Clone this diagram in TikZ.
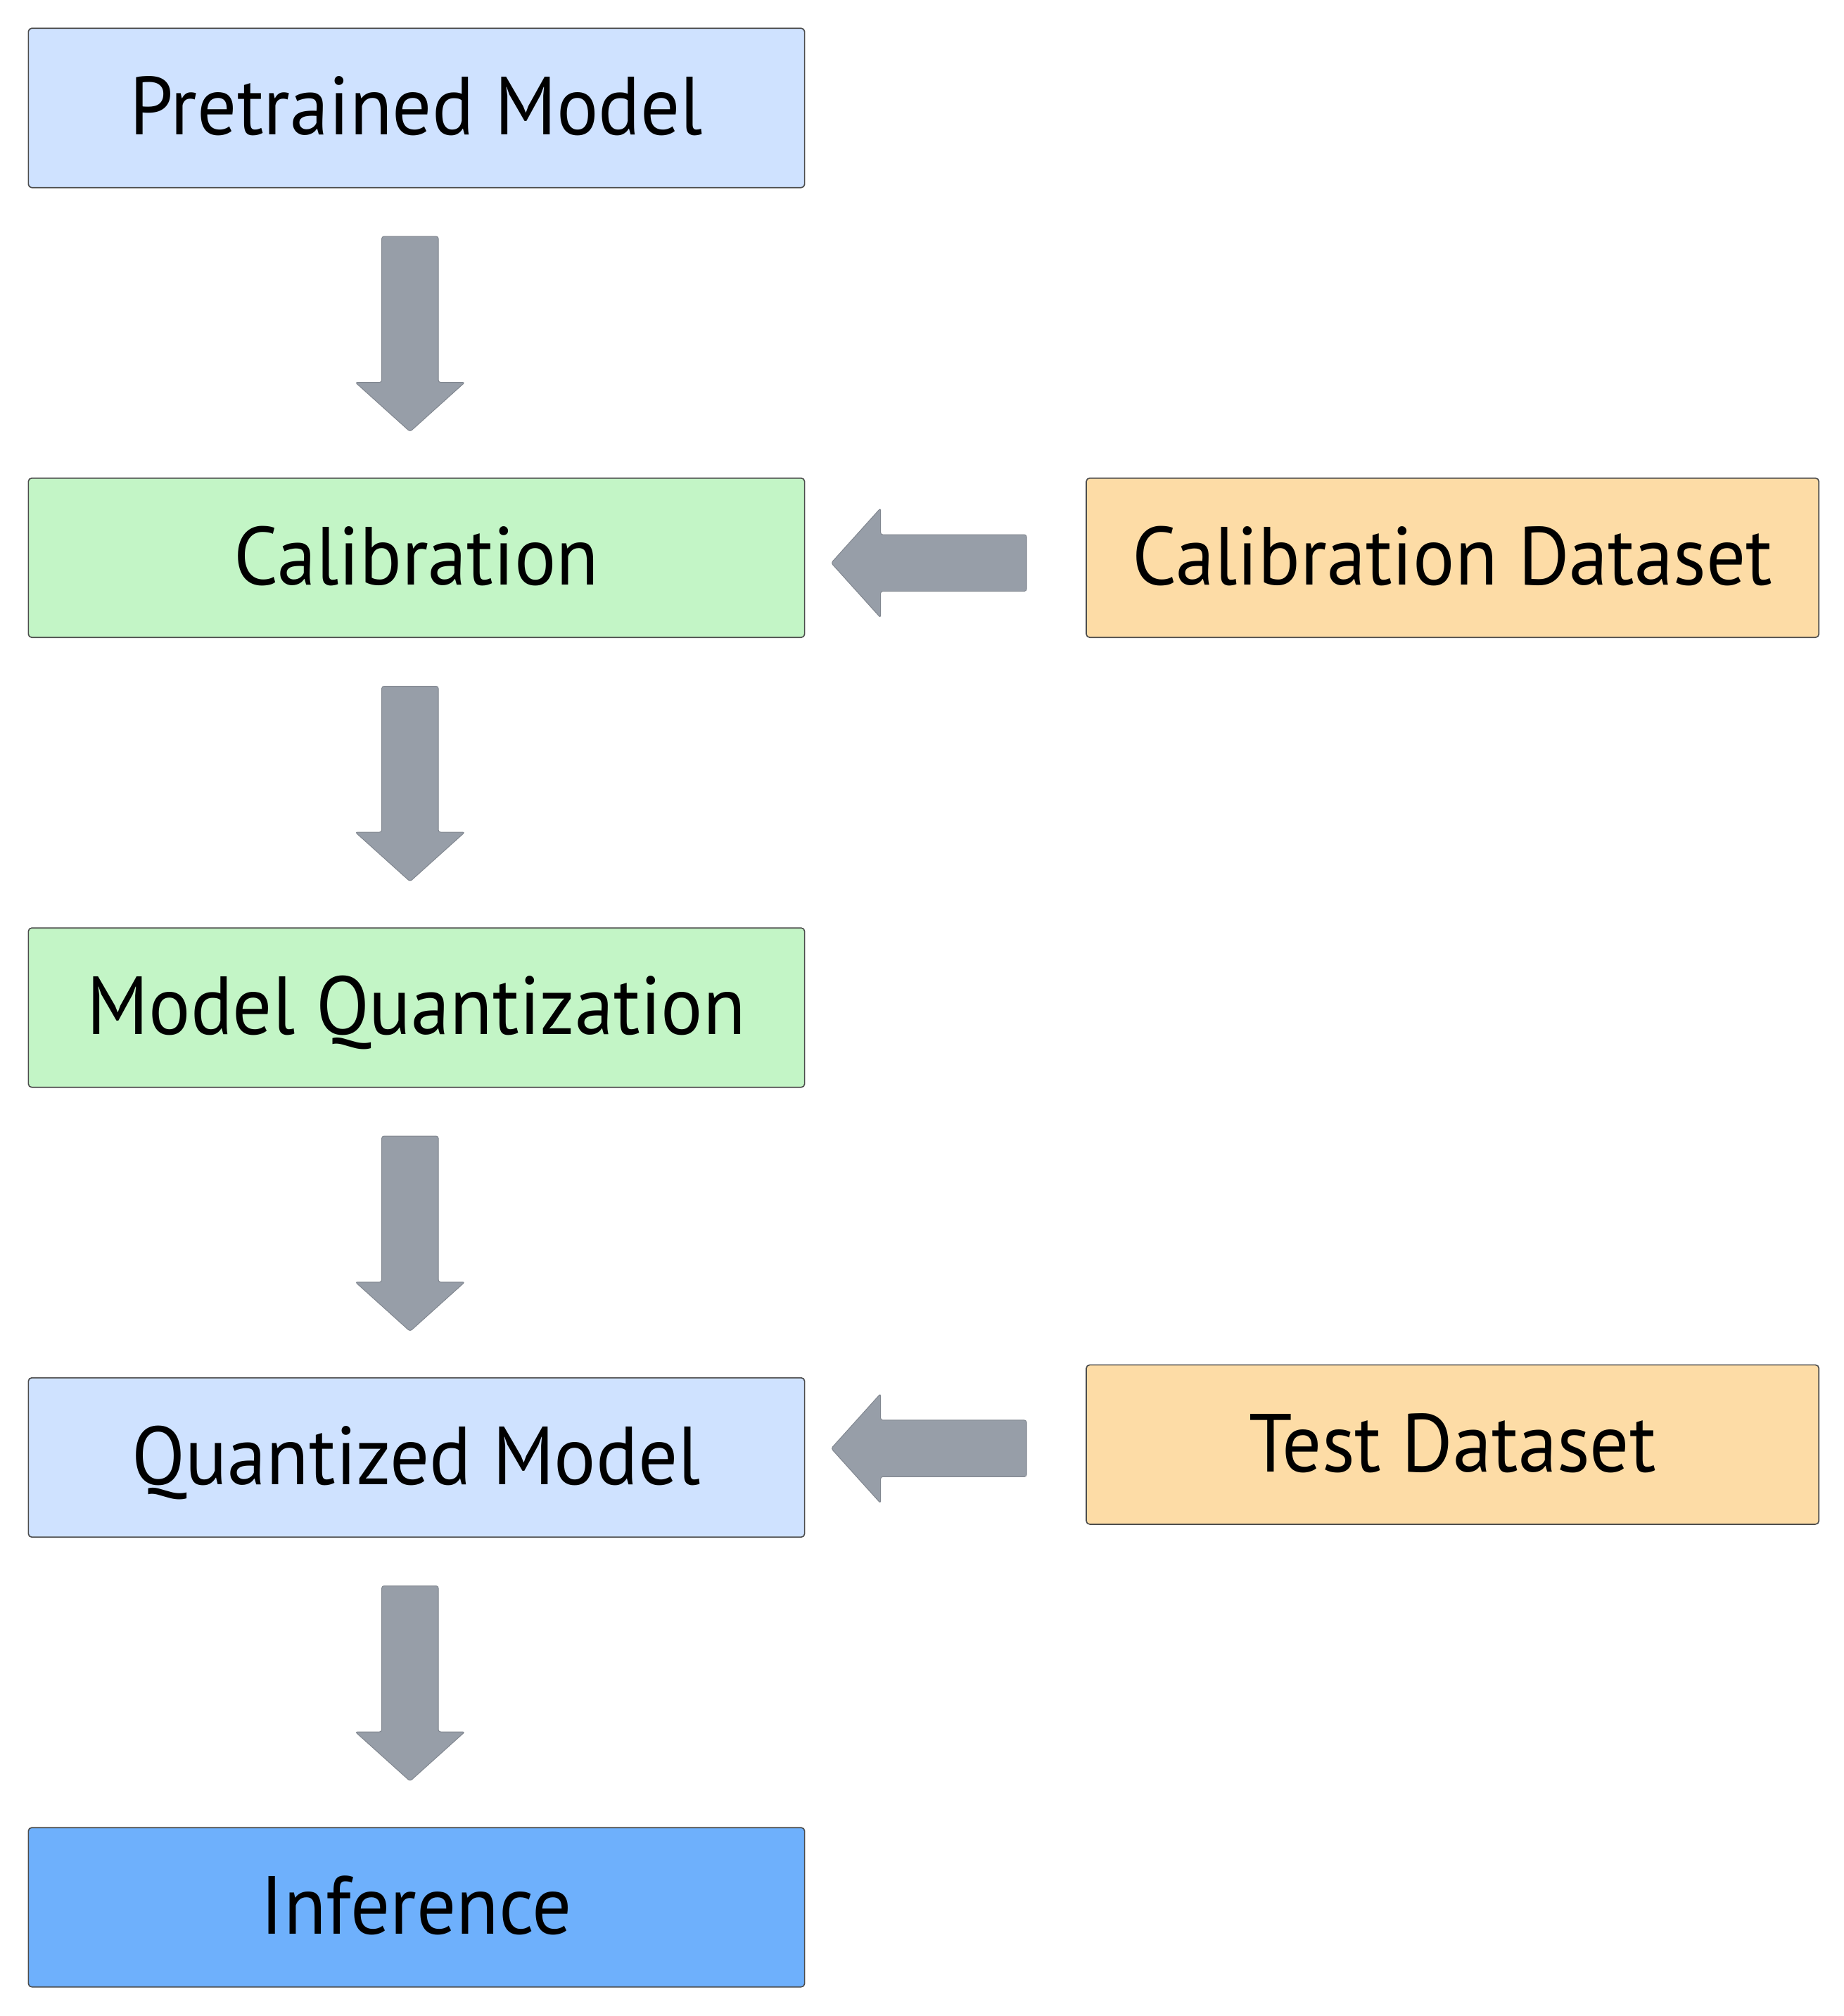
\documentclass[tikz,border=0pt]{standalone}
\usepackage{fontspec}
\setmainfont{PT Sans}[FakeStretch=0.947]
\usetikzlibrary{shapes.arrows,calc}
\definecolor{bluelt}{HTML}{CFE2FF}
\definecolor{greenlt}{HTML}{C3F5C6}
\definecolor{orangelt}{HTML}{FDDCA6}
\definecolor{bluemid}{HTML}{6EB0FC}
\definecolor{arrowgray}{HTML}{979EA8}
\begin{document}
\begin{tikzpicture}[x=0.02cm,y=-0.02cm,line join=round]
	\tikzset{box/.style={draw=black!70,line width=0.5pt,rounded corners=1.5pt,minimum width=12.08cm,minimum height=2.48cm,text height=1.1cm,text depth=0.26cm,inner sep=0pt,font=\fontsize{36.5}{44}\selectfont},
		databox/.style={box,fill=orangelt,minimum width=11.4cm},
		fatarrow/.style={single arrow,fill=arrowgray,draw=arrowgray!85!black,line width=0.3pt,rounded corners=1pt,minimum height=3.04cm,inner xsep=0pt,inner ysep=0.435cm,single arrow head extend=0.413cm,single arrow tip angle=96}}
	\useasboundingbox (0,0) rectangle (1434,1568.6);
	% main column
	\node[box,fill=bluelt] (pre) at (324,84) {Pretrained Model};
	\node[box,fill=greenlt] (cal) at (324,434) {Calibration};
	\node[box,fill=greenlt] (mq) at (324,784) {Model Quantization};
	\node[box,fill=bluelt] (qm) at (324,1134) {Quantized Model};
	\node[box,fill=bluemid] (inf) at (324,1484) {Inference};
	% data sets
	\node[databox] (cds) at (1130,434) {Calibration Dataset};
	\node[databox] (tds) at (1130,1124) {Test Dataset};
	% arrows
	\foreach \a/\b in {pre/cal,cal/mq,mq/qm,qm/inf}
		\node[fatarrow,rotate=-90] at ($(\a.south)!0.5!(\b.north)+(-5,-9)$) {};
	\node[fatarrow,rotate=180] at ($(cal.east)!0.5!(cds.west)+(-3,4)$) {};
	\node[fatarrow,rotate=180] at ($(qm.east)!0.5!(tds.west)+(-3,-2)$) {};
\end{tikzpicture}
\end{document}
